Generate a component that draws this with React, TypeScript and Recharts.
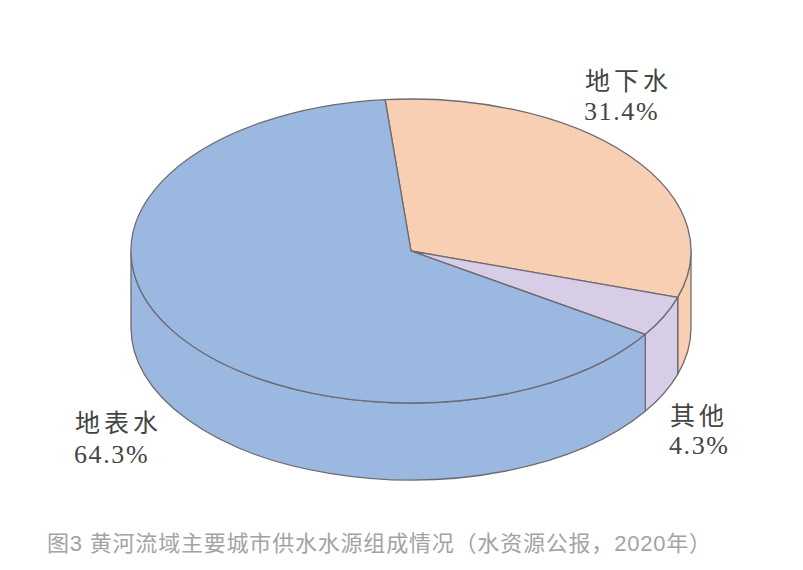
import { PieChart, Pie, Cell } from 'recharts';

const sources = ['地下水', '其他', '地表水'];
const shares = [31.4, 4.3, 64.3];
const colors = ['#f8cfb2', '#d8cde6', '#9ab8e0'];

const chartData = sources.map((name, i) => ({ name, value: shares[i] }));

const CX = 411;
const CY = 251;
const RX = 280;
const SQUASH = 152 / 280;
const DEPTH = 77;
const START = 95.3;
const EDGE = '#6e6a72';
const SERIF = '"Liberation Serif", "Noto Sans CJK SC", serif';

const labelSpots = [
  { x: 584, y: 120, nameY: 90 },
  { x: 669, y: 454, nameY: 425 },
  { x: 74, y: 463, nameY: 432 },
];

const pt = (deg: number, r: number, cx: number, cy: number) => {
  const a = (deg * Math.PI) / 180;
  return [cx + r * Math.cos(a), cy - r * SQUASH * Math.sin(a)];
};

// flat top face: the circular sector squashed into an ellipse
const TopFace = (props: any) => {
  const { cx, cy, outerRadius: r, startAngle, endAngle, fill } = props;
  const [x1, y1] = pt(startAngle, r, cx, cy);
  const [x2, y2] = pt(endAngle, r, cx, cy);
  const large = Math.abs(endAngle - startAngle) > 180 ? 1 : 0;
  const d = `M${cx},${cy} L${x1},${y1} A${r},${r * SQUASH} 0 ${large} 1 ${x2},${y2} Z`;
  return <path d={d} fill={fill} stroke={EDGE} strokeWidth={1.3} strokeLinejoin="round" />;
};

// side wall: only the part of the rim on the front half is visible
const SideWall = (props: any) => {
  const { cx, cy, outerRadius: r, startAngle, endAngle, fill } = props;
  const from = Math.min(startAngle, 0);
  const to = Math.max(endAngle, -180);
  if (from <= to) return null;
  const [x1, y1] = pt(from, r, cx, cy);
  const [x2, y2] = pt(to, r, cx, cy);
  const ry = r * SQUASH;
  const d =
    `M${x1},${y1} A${r},${ry} 0 0 1 ${x2},${y2} L${x2},${y2 + DEPTH} ` +
    `A${r},${ry} 0 0 0 ${x1},${y1 + DEPTH} Z`;
  return <path d={d} fill={fill} stroke={EDGE} strokeWidth={1.3} strokeLinejoin="round" />;
};

const renderLabel = (props: any) => {
  const spot = labelSpots[props.index];
  return (
    <g key={props.name} fill="#444">
      <text x={spot.x + 1} y={spot.nameY} fontFamily="Noto Sans CJK SC" fontSize={25} letterSpacing={4}>
        {props.name}
      </text>
      <text x={spot.x} y={spot.y} fontFamily={SERIF} fontSize={26} letterSpacing={1.6}>
        {props.value}%
      </text>
    </g>
  );
};

const App = () => {
  return (
    <div style={{ position: 'relative', width: 803, height: 570, margin: -8, background: '#fff' }}>
      <PieChart width={803} height={570} margin={{ top: 0, right: 0, bottom: 0, left: 0 }}>
        <Pie
          data={chartData}
          dataKey="value"
          nameKey="name"
          cx={CX}
          cy={CY}
          outerRadius={RX}
          startAngle={START}
          endAngle={START - 360}
          paddingAngle={0}
          shape={SideWall}
          isAnimationActive={false}
        >
          {chartData.map((d, i) => (
            <Cell key={d.name} fill={colors[i]} />
          ))}
        </Pie>
        <Pie
          data={chartData}
          dataKey="value"
          nameKey="name"
          cx={CX}
          cy={CY}
          outerRadius={RX}
          startAngle={START}
          endAngle={START - 360}
          paddingAngle={0}
          shape={TopFace}
          label={renderLabel}
          labelLine={false}
          isAnimationActive={false}
        >
          {chartData.map((d, i) => (
            <Cell key={d.name} fill={colors[i]} />
          ))}
        </Pie>
      </PieChart>
      <div
        style={{
          position: 'absolute',
          left: 47,
          top: 529,
          color: '#a3a3a3',
          fontFamily: '"Liberation Sans", "Noto Sans CJK SC", sans-serif',
          fontSize: 22,
          letterSpacing: 0.8,
          lineHeight: '30px',
          whiteSpace: 'nowrap',
        }}
      >
        图3 黄河流域主要城市供水水源组成情况（水资源公报，2020年）
      </div>
    </div>
  );
};

export default App;
